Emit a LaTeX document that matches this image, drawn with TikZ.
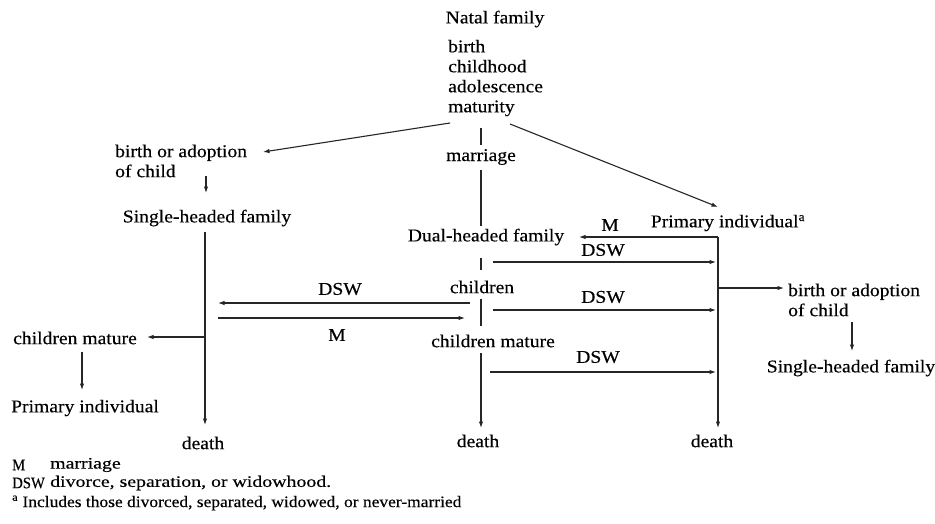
\documentclass[tikz,border=0pt]{standalone}
\usepackage{fontspec}
\setmainfont{Liberation Serif}[FakeStretch=1.09,FakeBold=0.3]
\newfontfamily\legwide{Liberation Serif}[FakeStretch=1.24,FakeBold=0.3]
\newfontfamily\legnarrow{Liberation Serif}[FakeStretch=0.92,FakeBold=0.3]
\usetikzlibrary{arrows.meta}
\begin{document}
\begin{tikzpicture}[x=1pt,y=-1pt,
  lbl/.style={inner sep=0pt, font=\fontsize{18}{20}\selectfont},
  leg/.style={inner sep=0pt, anchor=west, font=\fontsize{16}{18}\selectfont},
  con/.style={line width=1.1pt, black!85},
  arr/.style={con,-{Latex[length=6.5pt,width=4.5pt]}}]
\useasboundingbox (0,0) rectangle (935,523);
% nodes
\node[lbl] (natal) at (495,19) {Natal family};
\node[lbl, align=left, anchor=west] (stages) at (448,78) {birth\\childhood\\adolescence\\maturity};
\node[lbl] (marr) at (481,157) {marriage};
\node[lbl] (dual) at (486,237) {Dual-headed family};
\node[lbl] (chil) at (482,287) {children};
\node[lbl] (chm) at (493,341) {children mature};
\node[lbl] (death2) at (478,441) {death};
\node[lbl] (prim) at (728,223) {Primary individual\textsuperscript{a}};
\node[lbl] (death3) at (712,441) {death};
\node[lbl, align=left, anchor=west] (barr) at (788,300) {birth or adoption\\of child};
\node[lbl] (shr) at (851,368) {Single-headed family};
\node[lbl, align=left, anchor=west] (bal) at (115,161) {birth or adoption\\of child};
\node[lbl] (shl) at (207,218) {Single-headed family};
\node[lbl] (death1) at (203,443) {death};
\node[lbl] (chml) at (75,338) {children mature};
\node[lbl] (priml) at (85,408) {Primary individual};
% arrow labels
\node[lbl] (lm1) at (610,225) {M};
\node[lbl] (ld1) at (603,250) {DSW};
\node[lbl] (ld2) at (603,297) {DSW};
\node[lbl] (ld3) at (598,357) {DSW};
\node[lbl] (ld4) at (340,289) {DSW};
\node[lbl] (lm2) at (337,335) {M};
% legend
\node[leg] (k1) at (12,465) {\legnarrow M};
\node[leg] (v1) at (50,465) {\legwide marriage};
\node[leg] (k2) at (12,483) {\legnarrow DSW};
\node[leg] (v2) at (50,483) {\legwide divorce, separation, or widowhood.};
\node[leg] (fn) at (12,503) {\textsuperscript{a} Includes those divorced, separated, widowed, or never-married};
% coordinates
\coordinate (nl) at (450,123);
\coordinate (nr) at (510,124);
\coordinate (balt) at (263,152);
\coordinate (primt) at (718,207);
\coordinate (t1a) at (481,128); \coordinate (t1b) at (481,145);
\coordinate (m1a) at (481,170); \coordinate (m1b) at (481,226);
\coordinate (t2a) at (481,258); \coordinate (t2b) at (481,270);
\coordinate (m2a) at (481,299); \coordinate (m2b) at (481,326);
\coordinate (m3a) at (481,353); \coordinate (m3b) at (481,428);
\coordinate (r1a) at (718,237); \coordinate (r1b) at (718,428);
\coordinate (mA) at (579,237);
\coordinate (d1a) at (493,262); \coordinate (d1b) at (716,262);
\coordinate (d2a) at (493,310); \coordinate (d2b) at (716,310);
\coordinate (d3a) at (490,372); \coordinate (d3b) at (716,372);
\coordinate (bra) at (718,288); \coordinate (brb) at (784,288);
\coordinate (rda) at (852,322); \coordinate (rdb) at (852,351);
\coordinate (lda) at (206,176); \coordinate (ldb) at (206,193);
\coordinate (lva) at (205,232); \coordinate (lvb) at (205,425);
\coordinate (lba) at (205,337); \coordinate (lbb) at (147,337);
\coordinate (lpa) at (82,352); \coordinate (lpb) at (82,390);
\coordinate (dla) at (470,303); \coordinate (dlb) at (218,303);
\coordinate (mra) at (218,318); \coordinate (mrb) at (465,318);
% connectors
\draw[arr] (nl) -- (balt);
\draw[arr] (nr) -- (primt);
\draw[con] (t1a) -- (t1b);
\draw[con] (m1a) -- (m1b);
\draw[con] (t2a) -- (t2b);
\draw[con] (m2a) -- (m2b);
\draw[arr] (m3a) -- (m3b);
\draw[arr] (r1a) -- (r1b);
\draw[arr] (r1a) -- (mA);
\draw[arr] (d1a) -- (d1b);
\draw[arr] (d2a) -- (d2b);
\draw[arr] (d3a) -- (d3b);
\draw[arr] (bra) -- (brb);
\draw[arr] (rda) -- (rdb);
\draw[arr] (lda) -- (ldb);
\draw[arr] (lva) -- (lvb);
\draw[arr] (lba) -- (lbb);
\draw[arr] (lpa) -- (lpb);
\draw[arr] (dla) -- (dlb);
\draw[arr] (mra) -- (mrb);
\end{tikzpicture}
\end{document}
